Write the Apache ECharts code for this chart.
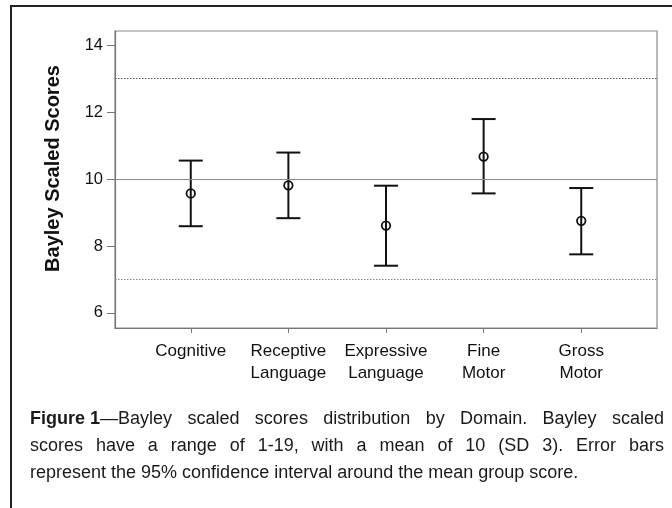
<!DOCTYPE html>
<html><head><meta charset="utf-8">
<script src="https://cdn.jsdelivr.net/npm/echarts@6/dist/echarts.min.js"></script>
<style>html,body{margin:0;padding:0;background:#fff}#c{width:672px;height:508px}</style>
</head><body><div id="c"></div>
<script>
const categories = ['Cognitive', 'Receptive\nLanguage', 'Expressive\nLanguage', 'Fine\nMotor', 'Gross\nMotor'];
const means = [9.57, 9.81, 8.61, 10.67, 8.75];
const lower = [8.59, 8.83, 7.41, 9.57, 7.75];
const upper = [10.55, 10.79, 9.80, 11.79, 9.73];
const yTicks = [6, 8, 10, 12, 14];
const refMean = 10;
const refSD = [13, 7];
const yTitle = 'Bayley Scaled Scores';
const captionLines = [
  '{b|Figure 1}—Bayley scaled scores distribution by Domain. Bayley scaled',
  'scores have a range of 1-19, with a mean of 10 (SD 3). Error bars',
  'represent the 95% confidence interval around the mean group score.'
];

const FF = '"Liberation Sans", Arial, Helvetica, sans-serif';
const idx = categories.map((c, i) => i);

// caption justification
const capSize = 18, capL = 30, capR = 664, capBase = [425, 452, 479];
const cv = document.createElement('canvas').getContext('2d');
function measure(tok) {
  let w = 0;
  const m = tok.match(/^\{b\|([^}]*)\}(.*)$/);
  if (m) {
    cv.font = 'bold ' + capSize + 'px ' + FF; w += cv.measureText(m[1]).width;
    cv.font = capSize + 'px ' + FF; w += cv.measureText(m[2]).width;
  } else {
    cv.font = capSize + 'px ' + FF; w = cv.measureText(tok).width;
  }
  return w;
}
const captionGraphics = [];
captionLines.forEach((line, li) => {
  const toks = line.match(/\{[^}]*\}\S*|\S+/g);
  const ws = toks.map(measure);
  const tot = ws.reduce((a, b) => a + b, 0);
  cv.font = capSize + 'px ' + FF;
  const last = li === captionLines.length - 1;
  const gap = last ? cv.measureText(' ').width : (capR - capL - tot) / (toks.length - 1);
  let x = capL;
  toks.forEach((t, k) => {
    captionGraphics.push({
      type: 'text', x: x, y: capBase[li] - 0.35 * capSize, silent: true,
      style: { text: t, fontSize: capSize, fontFamily: FF, fill: '#1a1a1a', verticalAlign: 'middle', align: 'left',
        rich: { b: { fontWeight: 'bold', fontSize: capSize, fontFamily: FF, fill: '#1a1a1a' } } }
    });
    x += ws[k] + gap;
  });
});

const chart = echarts.init(document.getElementById('c'), null, { renderer: 'canvas' });
chart.setOption({
  animation: false,
  backgroundColor: '#fff',
  textStyle: { fontFamily: FF },
  grid: { left: 115, top: 31, right: 15, bottom: 180, show: true, borderColor: '#8a8a8a', borderWidth: 1.2 },
  xAxis: {
    type: 'value', min: -0.776, max: 4.776,
    axisLine: { show: true, onZero: false, lineStyle: { color: '#777', width: 1.2 } },
    splitLine: { show: false },
    axisTick: { show: true, customValues: idx, length: 5, lineStyle: { color: '#777' } },
    axisLabel: { customValues: idx, formatter: v => categories[Math.round(v)], color: '#111', fontSize: 17, lineHeight: 22, margin: 12, fontFamily: FF }
  },
  yAxis: {
    type: 'value', min: 5.55, max: 14.42,
    axisLine: { show: true, onZero: false, lineStyle: { color: '#777', width: 1.2 } },
    splitLine: { show: false },
    axisTick: { show: true, customValues: yTicks, length: 8, lineStyle: { color: '#777' } },
    axisLabel: { customValues: yTicks, color: '#111', fontSize: 16.5, margin: 12, fontFamily: FF }
  },
  series: [
    {
      type: 'line', data: [], silent: true,
      markLine: {
        silent: true, symbol: 'none', label: { show: false },
        data: [
          { yAxis: refMean, lineStyle: { color: '#8c8c8c', width: 1, type: 'solid' } },
          { yAxis: refSD[0], lineStyle: { color: '#555', width: 1, type: [1.5, 1.5] } },
          { yAxis: refSD[1], lineStyle: { color: '#888', width: 1, type: [1.5, 1.5] } }
        ]
      }
    },
    {
      type: 'custom', silent: true,
      data: idx.map(i => [i, lower[i], upper[i]]),
      encode: { x: 0, y: [1, 2] },
      renderItem: function (params, api) {
        const lo = api.coord([api.value(0), api.value(1)]);
        const hi = api.coord([api.value(0), api.value(2)]);
        const hw = 12;
        const st = { stroke: '#111', lineWidth: 2 };
        return { type: 'group', children: [
          { type: 'line', shape: { x1: lo[0], y1: hi[1], x2: lo[0], y2: lo[1] }, style: st },
          { type: 'line', shape: { x1: lo[0] - hw, y1: hi[1], x2: lo[0] + hw, y2: hi[1] }, style: st },
          { type: 'line', shape: { x1: lo[0] - hw, y1: lo[1], x2: lo[0] + hw, y2: lo[1] }, style: st }
        ] };
      },
      z: 3
    },
    {
      type: 'scatter', silent: true,
      data: idx.map(i => [i, means[i]]),
      symbol: 'circle', symbolSize: 8.5,
      itemStyle: { color: 'rgba(255,255,255,0)', borderColor: '#111', borderWidth: 1.8, opacity: 1 },
      z: 4
    }
  ],
  graphic: [
    { type: 'line', silent: true, shape: { x1: 11, y1: 6, x2: 672, y2: 6 }, style: { stroke: '#222', lineWidth: 2 } },
    { type: 'line', silent: true, shape: { x1: 11, y1: 5, x2: 11, y2: 508 }, style: { stroke: '#222', lineWidth: 2 } },
    { type: 'text', silent: true, x: 53, y: 168.5, rotation: Math.PI / 2,
      style: { text: yTitle, fontSize: 20, fontWeight: 'bold', fontFamily: FF, fill: '#111', align: 'center', verticalAlign: 'middle' } }
  ].concat(captionGraphics)
});
</script>
</body></html>
